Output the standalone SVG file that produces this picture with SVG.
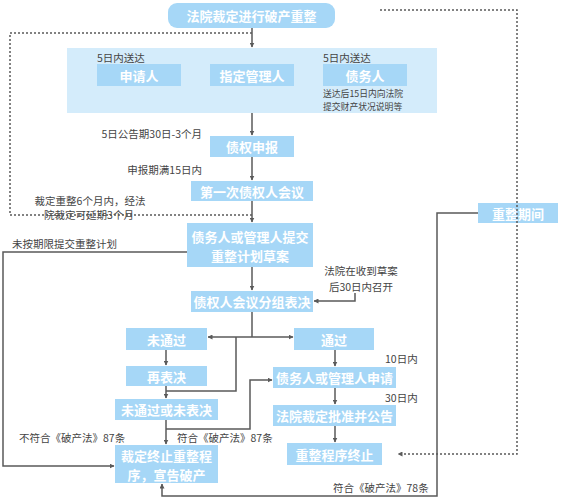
<svg xmlns="http://www.w3.org/2000/svg" width="563" height="500" viewBox="0 0 563 500">
<defs>
<style>
.bx{fill:#a6d7f7}
.bt{fill:#fff;font-family:"Noto Sans CJK SC","Noto Sans",sans-serif;font-size:13px;font-weight:bold;text-anchor:middle;dominant-baseline:central}
.lb{fill:#444;font-family:"Noto Sans CJK SC","Noto Sans",sans-serif;font-size:10.5px;dominant-baseline:central}
.sm{fill:#444;font-family:"Noto Sans CJK SC","Noto Sans",sans-serif;font-size:8.8px;dominant-baseline:central}
.ln{fill:none;stroke:#5a5a5a;stroke-width:1.5}
.dt{fill:none;stroke:#5a5a5a;stroke-width:1.5;stroke-dasharray:2 2}
.ar{marker-end:url(#ah)}
</style>
<marker id="ah" viewBox="0 0 10 10" refX="9" refY="5" markerWidth="5" markerHeight="5" orient="auto-start-reverse" markerUnits="userSpaceOnUse">
<path d="M0,0 L10,5 L0,10 z" fill="#5a5a5a"/>
</marker>
</defs>
<rect width="563" height="500" fill="#fff"/>

<g id="panel">
<rect x="67" y="48" width="370" height="65" fill="#d4ecfb"/>
<text class="lb" x="97" y="57">5日内送达</text>
<text class="lb" x="323" y="57">5日内送达</text>
<text class="sm" x="323" y="93">送达后15日内向法院</text>
<text class="sm" x="323" y="106">提交财产状况说明等</text>
</g>
<g id="n-title"><rect class="bx" x="168" y="3" width="167" height="25" rx="9"/><text class="bt" x="251.5" y="15.5">法院裁定进行破产重整</text></g>
<g id="n-applicant"><rect class="bx" x="97" y="64" width="84" height="22"/><text class="bt" x="139" y="75">申请人</text></g>
<g id="n-admin"><rect class="bx" x="210" y="64" width="84" height="22"/><text class="bt" x="252" y="75">指定管理人</text></g>
<g id="n-debtor"><rect class="bx" x="323" y="64" width="84" height="22"/><text class="bt" x="365" y="75">债务人</text></g>
<g id="n-claim"><rect class="bx" x="210" y="136" width="84" height="21"/><text class="bt" x="252" y="146.5">债权申报</text></g>
<g id="n-meeting1"><rect class="bx" x="191" y="181" width="122" height="20"/><text class="bt" x="252" y="191">第一次债权人会议</text></g>
<g id="n-submit"><rect class="bx" x="187" y="223" width="126" height="44"/><text class="bt" x="250" y="236">债务人或管理人提交</text><text class="bt" x="250" y="255">重整计划草案</text></g>
<g id="n-vote"><rect class="bx" x="191" y="291" width="122" height="21"/><text class="bt" x="252" y="301.5">债权人会议分组表决</text></g>
<g id="n-fail"><rect class="bx" x="126" y="328" width="81" height="22"/><text class="bt" x="166.5" y="339">未通过</text></g>
<g id="n-revote"><rect class="bx" x="126" y="366" width="81" height="20"/><text class="bt" x="166.5" y="376">再表决</text></g>
<g id="n-fail2"><rect class="bx" x="115" y="399" width="103" height="21"/><text class="bt" x="166.5" y="409.5">未通过或未表决</text></g>
<g id="n-bankrupt"><rect class="bx" x="115" y="445" width="103" height="38"/><text class="bt" x="166.5" y="455">裁定终止重整程</text><text class="bt" x="166.5" y="474">序，宣告破产</text></g>
<g id="n-pass"><rect class="bx" x="294" y="328" width="80" height="22"/><text class="bt" x="334" y="339">通过</text></g>
<g id="n-apply"><rect class="bx" x="273" y="367" width="123" height="21"/><text class="bt" x="334.5" y="377.5">债务人或管理人申请</text></g>
<g id="n-approve"><rect class="bx" x="273" y="405" width="123" height="21"/><text class="bt" x="334.5" y="415.5">法院裁定批准并公告</text></g>
<g id="n-end"><rect class="bx" x="287" y="443" width="95" height="22"/><text class="bt" x="334.5" y="454">重整程序终止</text></g>
<g id="n-period"><rect class="bx" x="478" y="203" width="80" height="20"/><text class="bt" x="518" y="213">重整期间</text></g>

<g id="connectors">
<path class="dt" d="M252,33 H10 V215 H252"/>
<path class="dt ar" d="M380,10 H517 V454 H398"/>
<path class="ln ar" d="M252,28 V47"/>
<path class="ln ar" d="M252,113 V135"/>
<path class="ln ar" d="M252,157 V180"/>
<path class="ln ar" d="M252,201 V222"/>
<path class="ln ar" d="M187,252 H3 V466 H114"/>
<path class="ln ar" d="M252,267 V290"/>
<path class="ln ar" d="M355,293 V301 H314"/>
<path class="ln" d="M252,312 V337"/>
<path class="ln ar" d="M252,337 H208"/>
<path class="ln ar" d="M252,337 H293"/>
<path class="ln" d="M236,337 V391 H166"/>
<path class="ln ar" d="M166,350 V365"/>
<path class="ln ar" d="M166,386 V398"/>
<path class="ln ar" d="M166,420 V444"/>
<path class="ln ar" d="M166,429 H250 V380 H272"/>
<path class="ln ar" d="M335,350 V366"/>
<path class="ln ar" d="M335,388 V404"/>
<path class="ln ar" d="M335,426 V442"/>
<path class="ln ar" d="M478,213 H437 V496 H162 V484"/>
</g>

<g id="labels">
<text class="lb" x="202" y="133" text-anchor="end">5日公告期30日-3个月</text>
<text class="lb" x="202" y="169" text-anchor="end">申报期满15日内</text>
<text class="lb" x="90" y="200" text-anchor="middle">裁定重整6个月内，经法</text>
<text class="lb" x="89" y="214" text-anchor="middle">院裁定可延期3个月</text>
<text class="lb" x="12" y="243">未按期限提交重整计划</text>
<text class="lb" x="361" y="270" text-anchor="middle">法院在收到草案</text>
<text class="lb" x="361" y="286" text-anchor="middle">后30日内召开</text>
<text class="lb" x="19" y="437">不符合《破产法》87条</text>
<text class="lb" x="177" y="437">符合《破产法》87条</text>
<text class="lb" x="385" y="358">10日内</text>
<text class="lb" x="385" y="397">30日内</text>
<text class="lb" x="333" y="487">符合《破产法》78条</text>
</g>
</svg>
